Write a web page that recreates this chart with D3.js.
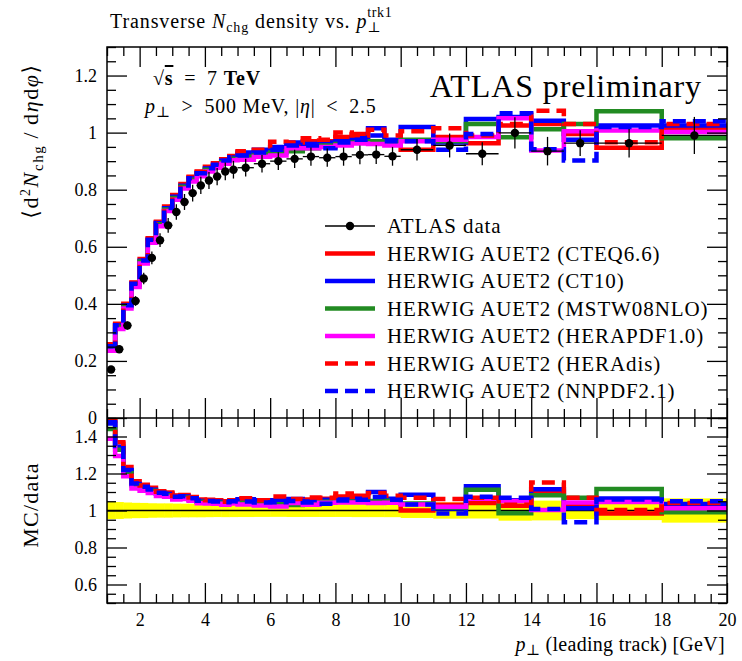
<!DOCTYPE html>
<html>
<head>
<meta charset="utf-8">
<script src="https://cdn.jsdelivr.net/npm/d3@7"></script>
<style>
body { margin: 0; background: #fff; }
svg { display: block; font-family: "Liberation Serif", "DejaVu Serif", serif; }
</style>
</head>
<body>
<script>
'use strict'

// bin edges of the leading-track pT histogram [GeV]
const binEdges = [1, 1.25, 1.5, 1.75, 2, 2.25, 2.5, 2.75, 3, 3.25, 3.5, 3.75, 4, 4.25, 4.5, 4.75, 5,
	5.5, 6, 6.5, 7, 7.5, 8, 8.5, 9, 9.5, 10, 11, 12, 13, 14, 15, 16, 18, 20];

const dataValues = [0.170, 0.241, 0.324, 0.410, 0.489, 0.561, 0.623, 0.675, 0.722, 0.757, 0.788, 0.815, 0.832, 0.846, 0.864, 0.870,
	0.877, 0.891, 0.900, 0.908, 0.916, 0.912, 0.916, 0.922, 0.923, 0.917,
	0.940, 0.955, 0.926, 0.999, 0.935, 0.963, 0.963, 0.990];
const dataErrors = [0.008, 0.011, 0.014, 0.017, 0.020, 0.022, 0.024, 0.026, 0.027, 0.028, 0.029, 0.030, 0.030, 0.030, 0.031, 0.031,
	0.031, 0.031, 0.031, 0.032, 0.032, 0.032, 0.032, 0.033, 0.033, 0.033,
	0.038, 0.042, 0.040, 0.055, 0.050, 0.045, 0.050, 0.065];

const mcCTEQ66 = [0.258, 0.330, 0.400, 0.475, 0.557, 0.630, 0.688, 0.741, 0.781, 0.820, 0.845, 0.864, 0.880, 0.893, 0.907, 0.918,
	0.925, 0.930, 0.937, 0.960, 0.970, 0.970, 0.985, 0.995, 0.965, 0.962,
	0.940, 0.985, 0.963, 1.025, 1.030, 0.995, 0.947, 1.015];
const mcCT10 = [0.250, 0.324, 0.394, 0.469, 0.551, 0.624, 0.682, 0.735, 0.775, 0.814, 0.839, 0.857, 0.874, 0.886, 0.901, 0.913,
	0.930, 0.940, 0.950, 0.965, 0.960, 0.965, 0.970, 0.980, 1.015, 0.975,
	1.020, 0.965, 1.048, 1.055, 1.042, 0.975, 1.025, 1.025];
const mcMSTW08 = [0.245, 0.320, 0.391, 0.466, 0.548, 0.621, 0.679, 0.731, 0.771, 0.810, 0.835, 0.853, 0.870, 0.882, 0.896, 0.908,
	0.915, 0.925, 0.930, 0.935, 0.945, 0.955, 0.960, 0.965, 0.970, 0.965,
	0.975, 0.970, 1.030, 0.984, 1.012, 1.030, 1.075, 0.980];
const mcHERAPDF = [0.236, 0.312, 0.384, 0.459, 0.541, 0.614, 0.672, 0.725, 0.765, 0.804, 0.829, 0.847, 0.864, 0.877, 0.891, 0.903,
	0.905, 0.915, 0.920, 0.945, 0.945, 0.950, 0.955, 0.962, 0.960, 0.955,
	0.970, 0.975, 0.985, 1.050, 0.937, 1.005, 1.007, 1.002];
const mcHERAdis = [0.255, 0.328, 0.398, 0.473, 0.555, 0.628, 0.686, 0.739, 0.779, 0.818, 0.843, 0.862, 0.878, 0.891, 0.905, 0.916,
	0.935, 0.940, 0.968, 0.965, 0.980, 0.975, 1.000, 0.990, 1.010, 0.990,
	1.005, 1.015, 0.990, 1.030, 1.077, 1.030, 0.966, 1.030];
const mcNNPDF21 = [0.251, 0.325, 0.395, 0.470, 0.552, 0.625, 0.683, 0.736, 0.776, 0.815, 0.840, 0.858, 0.875, 0.887, 0.902, 0.914,
	0.920, 0.930, 0.940, 0.955, 0.955, 0.945, 0.965, 0.975, 0.990, 0.970,
	0.970, 0.940, 0.995, 1.068, 0.942, 0.902, 1.020, 1.040];

const seriesNames = ['HERWIG AUET2 (CTEQ6.6)', 'HERWIG AUET2 (CT10)', 'HERWIG AUET2 (MSTW08NLO)',
	'HERWIG AUET2 (HERAPDF1.0)', 'HERWIG AUET2 (HERAdis)', 'HERWIG AUET2 (NNPDF2.1)'];
const seriesValues = [mcCTEQ66, mcCT10, mcMSTW08, mcHERAPDF, mcHERAdis, mcNNPDF21];
const seriesColors = ['#ff0000', '#0000ff', '#228b22', '#ff00ff', '#ff0000', '#0000ff'];
const seriesDashed = [false, false, false, false, true, true];

const xMajorTicks = [2, 4, 6, 8, 10, 12, 14, 16, 18, 20];
const yUpperTicks = [0, 0.2, 0.4, 0.6, 0.8, 1, 1.2];
const yLowerTicks = [0.6, 0.8, 1, 1.2, 1.4];

;(() => {
	const L = 107, R = 727, T = 47, M = 418, B = 603;
	const lineW = 4.5;
	const dash = '13,7';

	const svg = d3.select('body').append('svg').attr('width', 742).attr('height', 661);

	const x = d3.scaleLinear().domain([1, 20]).range([L, R]);
	const yUp = d3.scaleLinear().domain([0, 1.3]).range([M, T]);
	const yLo = d3.scaleLinear().domain([0.5, 1.5]).range([B, M]);

	const defs = svg.append('defs');
	defs.append('clipPath').attr('id', 'clipUp').append('rect')
		.attr('x', L).attr('y', T).attr('width', R - L).attr('height', M - T);
	defs.append('clipPath').attr('id', 'clipLo').append('rect')
		.attr('x', L).attr('y', M).attr('width', R - L).attr('height', B - M);

	const steps = vals => vals.flatMap((v, i) => [[binEdges[i], v], [binEdges[i + 1], v]]);
	const isMajor = (t, step) => Math.abs(t / step - Math.round(t / step)) < 1e-6;
	const xMinor = d3.range(1, 20.001, 0.5).filter(t => !isMajor(t, 2));
	const yUpMinor = d3.range(0, 1.3001, 0.05).filter(t => !isMajor(t, 0.2));
	const yLoMinor = d3.range(0.5, 1.5001, 0.05).filter(t => !isMajor(t, 0.2));
	const fmt = d => String(+d.toFixed(2));

	// ---- upper panel
	const up = svg.append('g').attr('clip-path', 'url(#clipUp)');
	const lineUp = d3.line().x(d => x(d[0])).y(d => yUp(d[1]));
	seriesValues.forEach((vals, k) => {
		up.append('path')
			.attr('d', lineUp(steps(vals)))
			.attr('fill', 'none')
			.attr('stroke', seriesColors[k])
			.attr('stroke-width', lineW)
			.attr('stroke-dasharray', seriesDashed[k] ? dash : null);
	});

	const pts = up.selectAll('g.pt')
		.data(dataValues.map((v, i) => ({ v, e: dataErrors[i], lo: binEdges[i], hi: binEdges[i + 1] })))
		.enter().append('g').classed('pt', true);
	pts.append('line')
		.attr('x1', d => x(d.lo)).attr('x2', d => x(d.hi))
		.attr('y1', d => yUp(d.v)).attr('y2', d => yUp(d.v))
		.attr('stroke', '#000').attr('stroke-width', 1.3);
	pts.append('line')
		.attr('x1', d => x((d.lo + d.hi) / 2)).attr('x2', d => x((d.lo + d.hi) / 2))
		.attr('y1', d => yUp(d.v - d.e)).attr('y2', d => yUp(d.v + d.e))
		.attr('stroke', '#000').attr('stroke-width', 1.3);
	pts.append('circle')
		.attr('cx', d => x((d.lo + d.hi) / 2)).attr('cy', d => yUp(d.v))
		.attr('r', 4.2).attr('fill', '#000');

	// ---- lower panel (ratio)
	const lo = svg.append('g').attr('clip-path', 'url(#clipLo)');
	lo.selectAll('rect.band')
		.data(dataValues.map((v, i) => ({ r: dataErrors[i] / v, lo: binEdges[i], hi: binEdges[i + 1] })))
		.enter().append('rect').classed('band', true)
		.attr('x', d => x(d.lo)).attr('width', d => x(d.hi) - x(d.lo) + 0.5)
		.attr('y', d => yLo(1 + d.r)).attr('height', d => yLo(1 - d.r) - yLo(1 + d.r))
		.attr('fill', '#ffff00');
	lo.append('line')
		.attr('x1', L).attr('x2', R).attr('y1', yLo(1)).attr('y2', yLo(1))
		.attr('stroke', '#000').attr('stroke-width', 1.3);
	const lineLo = d3.line().x(d => x(d[0])).y(d => yLo(d[1]));
	seriesValues.forEach((vals, k) => {
		lo.append('path')
			.attr('d', lineLo(steps(vals.map((v, i) => v / dataValues[i]))))
			.attr('fill', 'none')
			.attr('stroke', seriesColors[k])
			.attr('stroke-width', lineW)
			.attr('stroke-dasharray', seriesDashed[k] ? dash : null);
	});

	// ---- axes, ticks pointing inward
	const axisG = (axis, tx, ty, labels) => {
		const g = svg.append('g').attr('transform', `translate(${tx},${ty})`).call(axis);
		g.select('.domain').remove();
		g.selectAll('line').attr('stroke', '#000').attr('stroke-width', 1.3);
		g.attr('font-family', null).attr('font-size', 18);
		if (!labels) g.selectAll('text').remove();
		return g;
	};
	const pair = (mk, scale, major, minor, tx, ty, labels) => {
		axisG(mk(scale).tickValues(major).tickSize(-20).tickSizeOuter(0).tickPadding(10).tickFormat(fmt), tx, ty, labels);
		axisG(mk(scale).tickValues(minor).tickSize(-9).tickSizeOuter(0).tickFormat(''), tx, ty, false);
	};
	pair(d3.axisTop, x, xMajorTicks, xMinor, 0, T, false);
	pair(d3.axisBottom, x, xMajorTicks, xMinor, 0, M, false);
	pair(d3.axisTop, x, xMajorTicks, xMinor, 0, M, false);
	pair(d3.axisBottom, x, xMajorTicks, xMinor, 0, B, true);
	pair(d3.axisLeft, yUp, yUpperTicks, yUpMinor, L, 0, true);
	pair(d3.axisRight, yUp, yUpperTicks, yUpMinor, R, 0, false);
	pair(d3.axisLeft, yLo, yLowerTicks, yLoMinor, L, 0, true);
	pair(d3.axisRight, yLo, yLowerTicks, yLoMinor, R, 0, false);

	svg.append('rect').attr('x', L).attr('y', T).attr('width', R - L).attr('height', B - T)
		.attr('fill', 'none').attr('stroke', '#000').attr('stroke-width', 1.5);
	svg.append('line').attr('x1', L).attr('x2', R).attr('y1', M).attr('y2', M)
		.attr('stroke', '#000').attr('stroke-width', 1.5);

	// ---- texts
	const rich = (sel, parts) => {
		let off = 0;
		parts.forEach(p => {
			const s = p.s || 0;
			const ts = sel.append('tspan').text(p.t).attr('dy', s - off);
			off = s;
			if (p.i) ts.attr('font-style', 'italic');
			if (p.fs) ts.attr('font-size', p.fs);
			if (p.w) ts.attr('font-weight', p.w);
			if (p.deco) ts.style('text-decoration', p.deco);
		});
		return sel;
	};

	const title = svg.append('text').attr('x', 110).attr('y', 28).attr('font-size', 20)
		.attr('letter-spacing', 0.9);
	rich(title, [{ t: 'Transverse ' }, { t: 'N', i: true }, { t: 'chg', s: 4, fs: 14 },
		{ t: ' density vs. ' }, { t: 'p', i: true }]);
	const perp = title.append('tspan').text('⊥').attr('dy', 4).attr('font-size', 14);
	const tw = title.node().getComputedTextLength();
	const pw = perp.node().getComputedTextLength();
	svg.append('text').attr('x', 110 + tw - pw).attr('y', 17).attr('font-size', 14)
		.attr('letter-spacing', 0.6).text('trk1');

	const lab1 = svg.append('text').attr('x', 153).attr('y', 85).attr('font-size', 20)
		.attr('letter-spacing', 0.8);
	rich(lab1, [{ t: '√' }, { t: 's', w: 'bold', deco: 'overline' }, { t: '\u2002=\u20027 ' }, { t: 'TeV', w: 'bold' }]);
	const lab2 = svg.append('text').attr('x', 145).attr('y', 113).attr('font-size', 20)
		.attr('letter-spacing', 0.8);
	rich(lab2, [{ t: 'p', i: true }, { t: '⊥', s: 4, fs: 15 }, { t: '\u2002>\u2002500 MeV, |' }, { t: 'η', i: true },
		{ t: '|\u2002<\u20022.5' }]);

	svg.append('text').attr('x', 702).attr('y', 97).attr('font-size', 32)
		.attr('letter-spacing', 0.9).attr('text-anchor', 'end').text('ATLAS preliminary');

	const yl = svg.append('text').attr('transform', 'translate(38,141) rotate(-90)')
		.attr('text-anchor', 'middle').attr('font-size', 22).attr('letter-spacing', 1.6);
	rich(yl, [{ t: '⟨d' }, { t: '2', s: -8, fs: 14 }, { t: 'N', i: true }, { t: 'chg', s: 5, fs: 15 },
		{ t: '\u2009/\u2009d' }, { t: 'η', i: true }, { t: 'd' }, { t: 'φ', i: true }, { t: '⟩' }]);
	svg.append('text').attr('transform', 'translate(38,505) rotate(-90)')
		.attr('text-anchor', 'middle').attr('font-size', 22).attr('letter-spacing', 1.2).text('MC/data');

	const xl = svg.append('text').attr('x', 725).attr('y', 651).attr('text-anchor', 'end').attr('font-size', 20)
		.attr('letter-spacing', 0.3);
	rich(xl, [{ t: 'p', i: true }, { t: '⊥', s: 4, fs: 15 }, { t: ' (leading track) [GeV]' }]);

	// ---- legend
	const rowY = d3.scaleLinear().domain([0, 6]).range([226, 391]);
	const leg = svg.append('g').attr('font-size', 21).attr('letter-spacing', 0.9);
	leg.append('line').attr('x1', 325).attr('x2', 375).attr('y1', rowY(0)).attr('y2', rowY(0))
		.attr('stroke', '#000').attr('stroke-width', 1.3);
	leg.append('circle').attr('cx', 350).attr('cy', rowY(0)).attr('r', 4.2).attr('fill', '#000');
	leg.append('text').attr('x', 387).attr('y', rowY(0) + 7).text('ATLAS data');
	seriesNames.forEach((name, k) => {
		leg.append('line').attr('x1', 325).attr('x2', 375).attr('y1', rowY(k + 1)).attr('y2', rowY(k + 1))
			.attr('stroke', seriesColors[k]).attr('stroke-width', lineW)
			.attr('stroke-dasharray', seriesDashed[k] ? dash : null);
		leg.append('text').attr('x', 387).attr('y', rowY(k + 1) + 7).text(name);
	});
})();
</script>
</body>
</html>
